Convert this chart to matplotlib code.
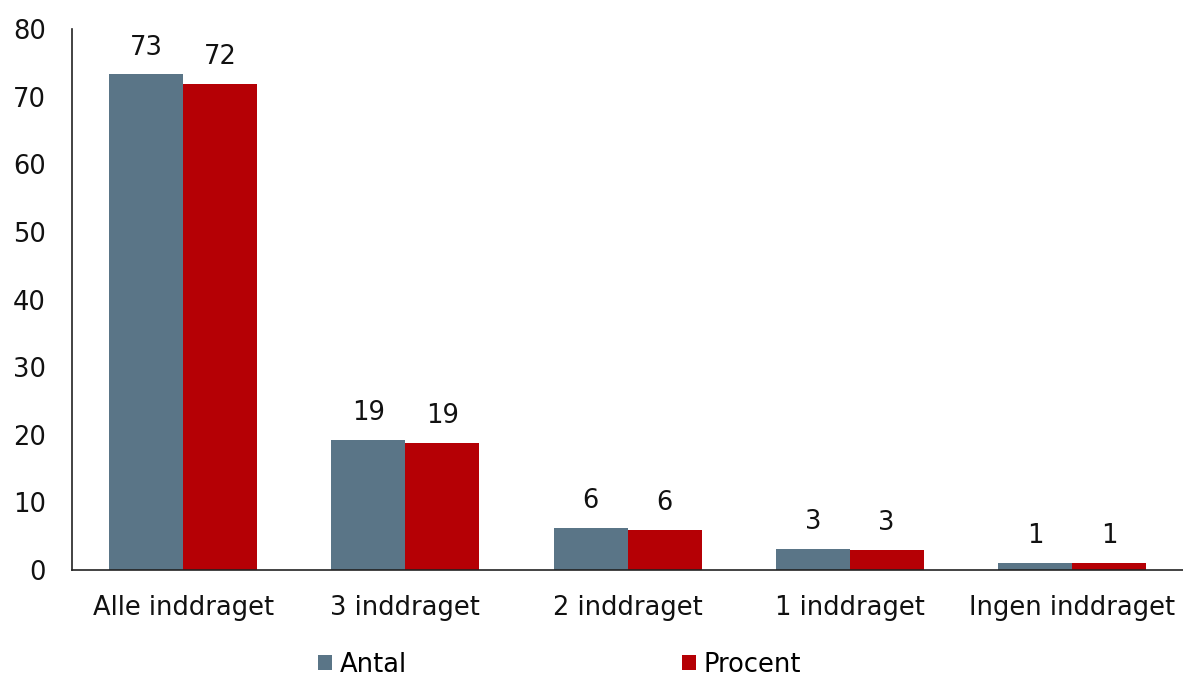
import numpy as np
import matplotlib.pyplot as plt

categories = ["Alle inddraget", "3 inddraget", "2 inddraget", "1 inddraget", "Ingen inddraget"]
antal = [73.3, 19.2, 6.2, 3.1, 1.0]
procent = [71.9, 18.8, 5.9, 3.0, 1.0]
antal_labels = ["73", "19", "6", "3", "1"]
procent_labels = ["72", "19", "6", "3", "1"]

c_antal = "#5a7587"
c_procent = "#b50005"

fig = plt.figure(figsize=(11.83, 6.77), dpi=100)
ax = fig.add_axes([0.061, 0.158, 0.939, 0.799])

x = np.arange(len(categories))
w = 0.333
b1 = ax.bar(x - w / 2, antal, w, color=c_antal, label="Antal")
b2 = ax.bar(x + w / 2, procent, w, color=c_procent, label="Procent")

fs = 18.5
for bars, labs in [(b1, antal_labels), (b2, procent_labels)]:
    for b, t in zip(bars, labs):
        ax.annotate(t, (b.get_x() + b.get_width() / 2, b.get_height()),
                    xytext=(0, 10), textcoords="offset points",
                    ha="center", va="bottom", fontsize=fs, color="#111111")

ax.set_xlim(-0.5, len(categories) - 0.5)
ax.set_ylim(0, 80)
ax.set_yticks(range(0, 81, 10))
ax.set_xticks(x)
ax.set_xticklabels(categories)
ax.tick_params(axis="both", length=0, labelsize=fs, colors="#111111")
ax.tick_params(axis="x", pad=18)
ax.tick_params(axis="y", pad=19)
for s in ["top", "right"]:
    ax.spines[s].set_visible(False)
for s in ["left", "bottom"]:
    ax.spines[s].set_color("#222222")
    ax.spines[s].set_linewidth(1.2)

fig.legend(handles=[b1, b2], loc="center", bbox_to_anchor=(0.473, 0.018),
           ncol=2, frameon=False, fontsize=fs, handlelength=0.55, handleheight=0.55,
           handletextpad=0.3, columnspacing=10.7)

fig.savefig("out.png", dpi=100)
